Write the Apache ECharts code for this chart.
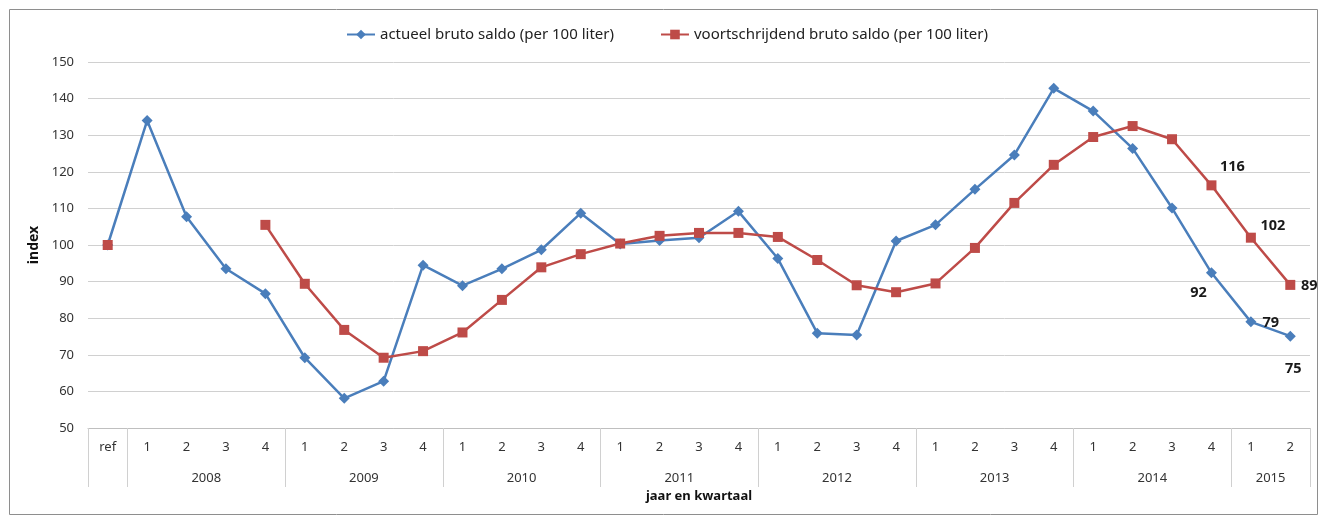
<!DOCTYPE html>
<html>
<head>
<meta charset="utf-8">
<script src="https://cdn.jsdelivr.net/npm/echarts@6/dist/echarts.min.js"></script>
<style>
  html, body { margin: 0; padding: 0; background: #fff; }
  #chart { width: 1319px; height: 518px; }
</style>
</head>
<body>
<div id="chart"></div>
<script>
// ---- data ----
const refLabel = 'ref';
const years = ['2008', '2009', '2010', '2011', '2012', '2013', '2014', '2015'];
const quartersPerYear = [4, 4, 4, 4, 4, 4, 4, 2];
const actual = [100, 134, 107.7, 93.5, 86.7, 69.2, 58.1, 62.8, 94.5, 88.9, 93.5, 98.7, 108.7,
  100.3, 101.2, 102.0, 109.2, 96.3, 75.9, 75.4, 101.1, 105.5, 115.2, 124.6, 142.8,
  136.6, 126.4, 110.1, 92.4, 79.0, 75.1];
const rolling = [100, null, null, null, 105.5, 89.4, 76.8, 69.2, 71.0, 76.1, 85.0, 93.9, 97.5,
  100.4, 102.5, 103.3, 103.3, 102.2, 95.9, 89.0, 87.1, 89.5, 99.2, 111.5, 121.9,
  129.5, 132.5, 128.9, 116.3, 102.0, 89.1];
const seriesNames = ['actueel bruto saldo (per 100 liter)', 'voortschrijdend bruto saldo (per 100 liter)'];
const yTicks = { min: 50, max: 150, step: 10 };

// ---- build categories ----
const categories = [refLabel];
const boundaries = [0];           // category index where a group starts
const yearCenters = [];           // center position in category units
years.forEach((y, i) => {
  boundaries.push(categories.length);
  const start = categories.length;
  for (let q = 1; q <= quartersPerYear[i]; q++) categories.push(String(q));
  yearCenters.push({ year: y, center: (start + categories.length - 1) / 2 });
});
const n = categories.length;
// half-slot axis for year labels (2n+1 slots, slot k at category position -0.5 + k/2)
const yearSlots = new Array(2 * n + 1).fill('');
yearCenters.forEach(c => { yearSlots[Math.round(2 * c.center + 1)] = c.year; });

// label styling (style only)
const labelOffsets = {
  actual: { 28: [-13, 20], 29: [20, 1], 30: [3, 33] },
  rolling: { 28: [21, -18], 29: [22, -12], 30: [19, 1] }
};
const labelStyle = { show: true, position: 'inside', fontFamily: 'Noto Sans', fontSize: 14.5,
  fontWeight: 'bold', color: '#1a1a1a', formatter: p => Math.round(p.value) };
function withLabels(arr, offsets) {
  return arr.map((v, i) => offsets[i] && v != null
    ? { value: v, label: Object.assign({}, labelStyle, { offset: offsets[i] }) }
    : v);
}

const BLUE = '#4A7EBB', RED = '#BE4B48';
const FONT = 'Noto Sans';

const chart = echarts.init(document.getElementById('chart'), null, { renderer: 'canvas' });
chart.setOption({
  animation: false,
  backgroundColor: '#fff',
  textStyle: { fontFamily: FONT },
  graphic: [{
    type: 'rect', silent: true, z: -1,
    shape: { x: 9.5, y: 9.5, width: 1308, height: 505 },
    style: { fill: null, stroke: '#8e8e8e', lineWidth: 1 }
  }],
  legend: {
    top: 22, left: 341,
    itemWidth: 28, itemHeight: 12, itemGap: 46,
    textStyle: { fontFamily: FONT, fontSize: 15, color: '#222' },
    data: seriesNames
  },
  grid: { left: 88, right: 9, top: 62, bottom: 90, containLabel: false },
  xAxis: [{
    type: 'category',
    data: categories,
    boundaryGap: true,
    axisLine: { show: true, lineStyle: { color: '#bfbfbf', width: 1 } },
    axisTick: {
      show: true, length: 59, lineStyle: { color: '#d0d0d0' },
      interval: (idx) => boundaries.indexOf(idx) >= 0
    },
    axisLabel: { interval: 0, margin: 13, fontFamily: FONT, fontSize: 13, color: '#333' },
    name: 'jaar en kwartaal',
    nameLocation: 'middle',
    nameGap: 62,
    nameTextStyle: { fontFamily: FONT, fontSize: 13, fontWeight: 'bold', color: '#111' }
  }, {
    type: 'category',
    data: yearSlots,
    boundaryGap: false,
    position: 'bottom',
    axisLine: { show: false },
    axisTick: { show: false },
    axisLabel: { interval: 0, margin: 44, fontFamily: FONT, fontSize: 13, color: '#333' }
  }],
  yAxis: {
    type: 'value',
    min: yTicks.min, max: yTicks.max, interval: yTicks.step,
    axisLine: { show: false },
    axisTick: { show: false },
    splitLine: { show: true, lineStyle: { color: '#d0d0d0', width: 1 } },
    axisLabel: { margin: 14, fontFamily: FONT, fontSize: 13, color: '#333' },
    name: 'index',
    nameLocation: 'middle',
    nameGap: 40,
    nameRotate: 90,
    nameTextStyle: { fontFamily: FONT, fontSize: 14, fontWeight: 'bold', color: '#111' }
  },
  series: [{
    name: seriesNames[0],
    type: 'line',
    xAxisIndex: 0,
    data: withLabels(actual, labelOffsets.actual),
    symbol: 'diamond', symbolSize: 11,
    lineStyle: { color: BLUE, width: 2.5 },
    itemStyle: { color: BLUE },
    connectNulls: false,
    z: 2
  }, {
    name: seriesNames[1],
    type: 'line',
    xAxisIndex: 0,
    data: withLabels(rolling, labelOffsets.rolling),
    symbol: 'rect', symbolSize: 10,
    lineStyle: { color: RED, width: 2.5 },
    itemStyle: { color: RED },
    connectNulls: false,
    z: 3
  }]
});
</script>
</body>
</html>
